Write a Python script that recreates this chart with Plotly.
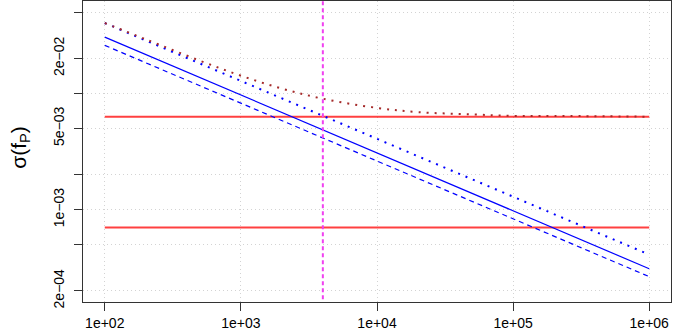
import plotly.graph_objects as go
import numpy as np

# sample size N (x) and the standard deviation of f_P (y)
n_ends = [1e2, 1e6]
sigma_solid = [0.0305, 0.00031]
sigma_dashed = [0.0259, 0.000265]
sigma_dotted = [0.0403, 0.00041]

n_curve = [1e2, 2e2, 5e2, 1e3, 2e3, 4e3, 1e4, 2e4, 5e4, 1e5, 2e5, 1e6]
sigma_curve = [0.0403, 0.0292, 0.0191, 0.0142, 0.0110, 0.0090, 0.0075,
               0.0069, 0.0066, 0.0064, 0.0064, 0.0063]

red_hi = [0.0063, 0.0063]
red_lo = [0.0007, 0.0007]
n_vline = 4000

ylim = [2e-4, 5e-2]
y_tickvals = [2e-4, 5e-4, 1e-3, 2e-3, 5e-3, 1e-2, 2e-2, 5e-2]
y_ticktext = ["2e\u221204", "", "1e\u221203", "", "5e\u221203", "", "2e\u221202", ""]
x_tickvals = [1e2, 1e3, 1e4, 1e5, 1e6]
x_ticktext = ["1e+02", "1e+03", "1e+04", "1e+05", "1e+06"]

FONT = "Liberation Sans, Arial, sans-serif"

fig = go.Figure()

fig.add_trace(go.Scatter(x=n_ends, y=red_hi, mode="lines",
                         line=dict(color="rgba(255,0,0,0.75)", width=2)))
fig.add_trace(go.Scatter(x=n_ends, y=red_lo, mode="lines",
                         line=dict(color="rgba(255,0,0,0.75)", width=2)))
fig.add_trace(go.Scatter(x=n_ends, y=sigma_solid, mode="lines",
                         line=dict(color="blue", width=1.2)))
fig.add_trace(go.Scatter(x=n_ends, y=sigma_dashed, mode="lines",
                         line=dict(color="blue", width=1.2, dash="5px,4px")))
fig.add_trace(go.Scatter(x=n_ends, y=sigma_dotted, mode="lines",
                         line=dict(color="blue", width=2, dash="2px,6px")))
fig.add_trace(go.Scatter(x=n_curve, y=sigma_curve, mode="lines",
                         line=dict(color="#a52a2a", width=2, dash="2px,6px", shape="spline")))

# vertical marker spanning the full plot height
yr = [np.log10(ylim[0]), np.log10(ylim[1])]
pad = 0.04 * (yr[1] - yr[0])
yrange = [yr[0] - pad, yr[1] + pad]
fig.add_trace(go.Scatter(x=[n_vline, n_vline], y=[10 ** (yrange[0] - 1), 10 ** (yrange[1] + 1)],
                         mode="lines", line=dict(color="#f040f0", width=2, dash="4px,3px")))

xr = [np.log10(n_ends[0]), np.log10(n_ends[1])]
xpad = 0.04 * (xr[1] - xr[0])

axis_common = dict(
    type="log", showline=True, mirror=True, linecolor="#333333", linewidth=1,
    ticks="outside", ticklen=8, tickcolor="#333333",
    showgrid=True, gridcolor="#d3d3d3", griddash="1px,3px", gridwidth=1,
    zeroline=False, tickfont=dict(family=FONT, size=14, color="black"),
)

fig.update_xaxes(range=[xr[0] - xpad, xr[1] + xpad], tickvals=x_tickvals,
                 ticktext=x_ticktext, **axis_common)
fig.update_yaxes(range=yrange, tickvals=y_tickvals, ticktext=y_ticktext,
                 tickangle=-90, ticklabelstandoff=4, **axis_common)

fig.add_annotation(text="\u03c3(f<sub>P</sub>)", xref="paper", yref="paper",
                   x=-0.133, y=0.515, showarrow=False, textangle=-90,
                   font=dict(family=FONT, size=21, color="black"))

fig.update_layout(
    width=673, height=335, showlegend=False,
    margin=dict(l=83, r=2, t=1, b=33),
    plot_bgcolor="white", paper_bgcolor="white",
)

fig.write_html("out.html", config={"displayModeBar": False},
               post_script="document.body.style.margin='0';document.body.style.overflow='hidden';")
